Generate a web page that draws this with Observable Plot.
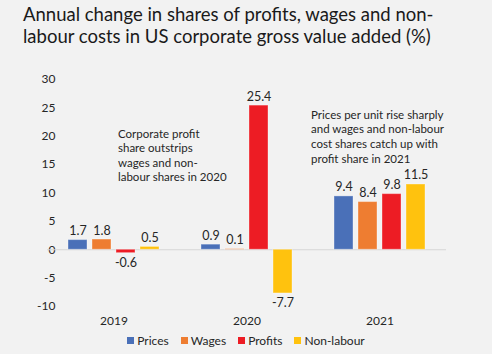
<!DOCTYPE html>
<html>
<head>
<meta charset="utf-8">
<script src="https://cdn.jsdelivr.net/npm/d3@7"></script>
<script src="https://cdn.jsdelivr.net/npm/@observablehq/plot@0.6"></script>
<style>
  html, body { margin: 0; padding: 0; background: #f2f2f2; }
  #wrap { width: 492px; height: 354px; position: relative; overflow: hidden; background: #f2f2f2; }
  #title { position: absolute; left: 23px; top: 3px; font-family: Lato, "Open Sans", sans-serif; font-size: 18.5px; line-height: 22px; color: #1a1a1a; white-space: nowrap; }
  #chart { position: absolute; left: 0; top: 56px; }
  #legend { position: absolute; left: 0; width: 492px; top: 333px; display: flex; justify-content: center; gap: 12px; font-family: Lato, sans-serif; font-size: 12px; color: #262626; }
  #legend span.item { display: inline-flex; align-items: center; }
  #legend span.sw { display: inline-block; width: 7px; height: 7px; margin-right: 3px; }
</style>
</head>
<body>
<div id="wrap">
  <div id="title">Annual change in shares of profits, wages and non-<br>labour costs in US corporate gross value added (%)</div>
  <div id="chart"></div>
  <div id="legend"></div>
</div>
<script>
const years = ["2019", "2020", "2021"];
const series = ["Prices", "Wages", "Profits", "Non-labour"];
const prices = [1.7, 0.9, 9.4];
const wages = [1.8, 0.1, 8.4];
const profits = [-0.6, 25.4, 9.8];
const nonLabour = [0.5, -7.7, 11.5];
const yTicks = [-10, -5, 0, 5, 10, 15, 20, 25, 30];
const colors = ["#4a70b8", "#ee7d31", "#ed1c24", "#ffc20e"];
const noteYears = ["2019", "2021"];
const noteSeries = ["Profits", "Prices"];
const noteY = [21.6, 24.9];
const noteText = [
  "Corporate profit\nshare outstrips\nwages and non-\nlabour shares in 2020",
  "Prices per unit rise sharply\nand wages and non-labour\ncost shares catch up with\nprofit share in 2021"
];

const valuesBySeries = [prices, wages, profits, nonLabour];
const rows = [];
years.forEach((yr, i) => series.forEach((s, j) => rows.push({year: yr, series: s, value: valuesBySeries[j][i]})));
const notes = noteText.map((t, i) => ({year: noteYears[i], series: noteSeries[i], y: noteY[i], text: t}));

const noteStyle = {fx: "year", x: "series", y: "y", text: "text", textAnchor: "start", lineAnchor: "top", lineHeight: 1.27, fontSize: 11.5, fill: "#262626"};

const chart = Plot.plot({
  width: 492,
  height: 274,
  marginLeft: 47,
  marginRight: 46,
  marginTop: 23,
  marginBottom: 24,
  style: {background: "transparent", fontFamily: "Lato, sans-serif", fontSize: "12px", color: "#262626"},
  fx: {domain: years, paddingInner: 0.27, paddingOuter: 0.135, axis: "bottom", label: null, tickSize: 0, tickPadding: 10},
  x: {domain: series, paddingInner: 0.2, paddingOuter: 0.1, axis: null},
  y: {domain: [-10, 30], ticks: yTicks, tickFormat: d => String(d), tickSize: 0, tickPadding: 10, label: null},
  color: {domain: series, range: colors},
  marks: [
    Plot.ruleY([0], {stroke: "#d6d6d6", strokeWidth: 1.2, insetLeft: -18, insetRight: -18}),
    Plot.barY(rows, {fx: "year", x: "series", y: "value", fill: "series", stroke: "#ffffff", strokeOpacity: 0.35, strokeWidth: 1}),
    Plot.text(rows.filter(d => d.value >= 0), {fx: "year", x: "series", y: "value", text: d => d.value.toFixed(1), dy: -9, fontSize: 12.5, fill: "#262626"}),
    Plot.text(rows.filter(d => d.value < 0), {fx: "year", x: "series", y: "value", text: d => d.value.toFixed(1), dy: 10, fontSize: 12.5, fill: "#262626"}),
    Plot.text(notes.slice(0, 1), {...noteStyle, dx: -8}),
    Plot.text(notes.slice(1, 2), {...noteStyle, dx: -33}),
  ]
});
document.getElementById("chart").appendChild(chart);

const legend = document.getElementById("legend");
series.forEach((s, i) => {
  const it = document.createElement("span");
  it.className = "item";
  it.innerHTML = `<span class="sw" style="background:${colors[i]}"></span>${s}`;
  legend.appendChild(it);
});
</script>
</body>
</html>
